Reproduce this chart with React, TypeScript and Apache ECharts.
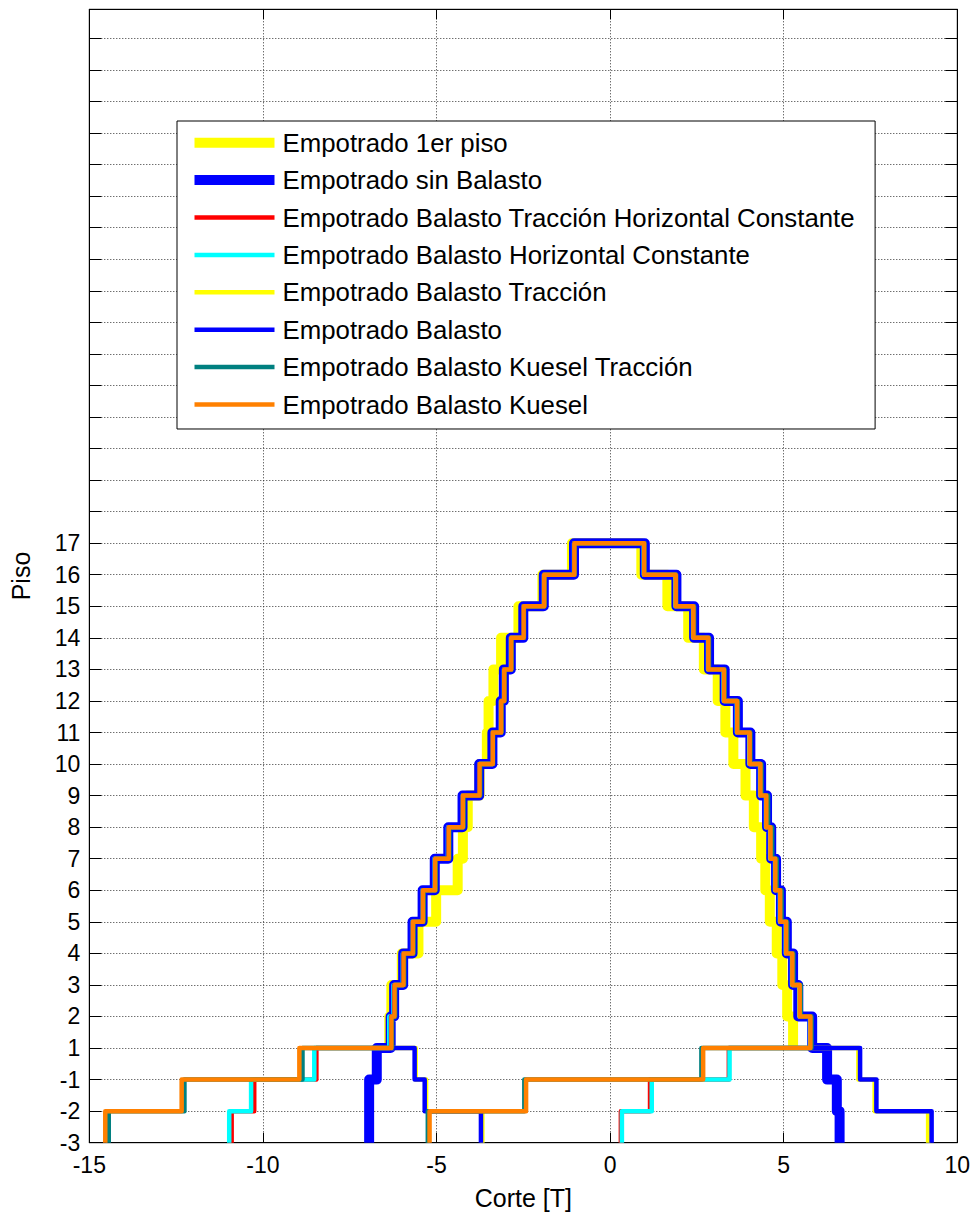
import React, { useEffect, useRef } from "react";
import * as echarts from "echarts";

const FONT = "'Liberation Sans', Arial, Helvetica, sans-serif";

// Y positions are story indices; tick labels for index 0..19
const floorLabels = ["-3", "-2", "-1", "1", "2", "3", "4", "5", "6", "7", "8", "9", "10", "11", "12", "13", "14", "15", "16", "17"];
const yMaxIndex = 35.92; // axis top (unlabelled grid lines continue above 17)

// x axis
const xMin = -15;
const xMax = 10;
const xStep = 5;

// Shear per story interval [-3,-2], [-2,-1], [-1,1], [1,2], ... [16,17]
// left = negative branch (going up), right = positive branch (going down)
const primerPisoStart = 3; // starts at floor 1
const primerPisoLeft = [-6.36, -6.3, -6.0, -5.52, -5.01, -4.39, -4.24, -4.1, -3.76, -3.55, -3.5, -3.36, -3.14, -2.64, -1.95, -1.1];
const primerPisoRight = [5.27, 5.1, 4.96, 4.8, 4.6, 4.47, 4.35, 4.14, 3.9, 3.55, 3.32, 3.1, 2.7, 2.25, 1.65, 0.9];

const sinBalastoLeft = [-6.94, -6.94, -6.72, -6.32, -6.22, -5.96, -5.69, -5.4, -5.05, -4.66, -4.25, -3.77, -3.39, -3.15, -3.06, -2.86, -2.5, -1.91, -1.04];
const sinBalastoRight = [6.61, 6.53, 6.25, 5.82, 5.42, 5.27, 5.09, 4.92, 4.78, 4.64, 4.52, 4.35, 4.04, 3.68, 3.3, 2.85, 2.42, 1.91, 1.0];

const tracHorLeft = [-10.9, -10.25, -8.46, -6.33, -6.22, -5.95, -5.68, -5.39, -5.04, -4.65, -4.24, -3.76, -3.38, -3.14, -3.05, -2.85, -2.49, -1.9, -1.03];
const tracHorRight = [0.31, 1.15, 3.42, 5.78, 5.47, 5.26, 5.08, 4.91, 4.77, 4.63, 4.51, 4.34, 4.03, 3.67, 3.29, 2.84, 2.41, 1.89, 0.98];

const horLeft = [-10.97, -10.34, -8.52, -6.36, -6.24, -5.97, -5.7, -5.41, -5.06, -4.67, -4.25, -3.77, -3.39, -3.15, -3.06, -2.86, -2.5, -1.91, -1.04];
const horRight = [0.34, 1.2, 3.44, 5.76, 5.45, 5.24, 5.06, 4.89, 4.75, 4.61, 4.49, 4.32, 4.01, 3.65, 3.27, 2.82, 2.39, 1.88, 0.97];

const tracLeft = [-3.68, -5.3, -5.6, -6.3, -6.21, -5.95, -5.68, -5.39, -5.04, -4.65, -4.24, -3.76, -3.38, -3.14, -3.05, -2.85, -2.49, -1.9, -1.03];
const tracRight = [9.16, 7.62, 7.15, 5.79, 5.47, 5.26, 5.08, 4.91, 4.77, 4.63, 4.51, 4.34, 4.03, 3.67, 3.29, 2.84, 2.41, 1.9, 0.99];

const balastoLeft = [-3.72, -5.34, -5.63, -6.31, -6.22, -5.96, -5.69, -5.4, -5.05, -4.66, -4.25, -3.77, -3.39, -3.15, -3.06, -2.86, -2.5, -1.91, -1.04];
const balastoRight = [9.26, 7.67, 7.2, 5.8, 5.48, 5.27, 5.09, 4.92, 4.78, 4.64, 4.52, 4.35, 4.04, 3.68, 3.3, 2.85, 2.42, 1.91, 1.0];

const kueselTracLeft = [-14.44, -12.26, -8.86, -6.28, -6.19, -5.93, -5.66, -5.37, -5.02, -4.63, -4.22, -3.74, -3.37, -3.13, -3.04, -2.84, -2.48, -1.89, -1.02];
const kueselTracRight = [-5.25, -2.47, 2.63, 5.8, 5.49, 5.28, 5.1, 4.94, 4.8, 4.67, 4.55, 4.36, 4.04, 3.68, 3.3, 2.85, 2.42, 1.9, 0.99];

const kueselLeft = [-14.54, -12.34, -8.95, -6.3, -6.21, -5.95, -5.68, -5.39, -5.04, -4.65, -4.24, -3.76, -3.38, -3.14, -3.05, -2.85, -2.49, -1.9, -1.03];
const kueselRight = [-5.2, -2.42, 2.68, 5.77, 5.46, 5.25, 5.07, 4.9, 4.76, 4.62, 4.5, 4.33, 4.02, 3.66, 3.28, 2.83, 2.4, 1.89, 0.98];

const seriesNames = [
  "Empotrado 1er piso",
  "Empotrado sin Balasto",
  "Empotrado Balasto Tracción Horizontal Constante",
  "Empotrado Balasto Horizontal Constante",
  "Empotrado Balasto Tracción",
  "Empotrado Balasto",
  "Empotrado Balasto Kuesel Tracción",
  "Empotrado Balasto Kuesel",
];
const seriesColors = ["#FFFF00", "#0000FF", "#FF0000", "#00FFFF", "#FFFF00", "#0000FF", "#008080", "#FF8000"];
const seriesWidths = [10, 10, 4.5, 4.5, 4.5, 4.5, 4.5, 4.5];

function stairs(left: number[], right: number[], start: number): number[][] {
  const pts: number[][] = [];
  for (let i = 0; i < left.length; i++) {
    pts.push([left[i], start + i], [left[i], start + i + 1]);
  }
  for (let i = right.length - 1; i >= 0; i--) {
    pts.push([right[i], start + i + 1], [right[i], start + i]);
  }
  return pts;
}

const seriesData = [
  stairs(primerPisoLeft, primerPisoRight, primerPisoStart),
  stairs(sinBalastoLeft, sinBalastoRight, 0),
  stairs(tracHorLeft, tracHorRight, 0),
  stairs(horLeft, horRight, 0),
  stairs(tracLeft, tracRight, 0),
  stairs(balastoLeft, balastoRight, 0),
  stairs(kueselTracLeft, kueselTracRight, 0),
  stairs(kueselLeft, kueselRight, 0),
];

export default function App() {
  const ref = useRef<HTMLDivElement>(null);
  useEffect(() => {
    if (!ref.current) return;
    const chart = echarts.init(ref.current, undefined, { renderer: "svg" });
    const gridLine = { show: true, lineStyle: { color: "#333", width: 1, type: [1, 2] as any } };
    const yLabel = (v: number) => {
      const i = Math.round(v);
      if (Math.abs(v - i) > 1e-6) return "";
      return i >= 0 && i < floorLabels.length ? floorLabels[i] : "";
    };
    chart.setOption({
      animation: false,
      backgroundColor: "#fff",
      textStyle: { fontFamily: FONT },
      grid: {
        left: 89.3,
        right: 19.7,
        top: 9.3,
        bottom: 75.3,
        show: true,
        borderColor: "#000",
        borderWidth: 1,
        backgroundColor: "#fff",
        outerBoundsMode: "none",
      },
      legend: {
        orient: "vertical",
        left: 177,
        top: 121,
        backgroundColor: "#fff",
        borderColor: "#000",
        borderWidth: 1,
        borderRadius: 0,
        padding: [7.7, 20, 10.5, 12.5],
        itemWidth: 80,
        itemHeight: 10,
        itemGap: 9.4,
        selectedMode: false,
        itemStyle: { opacity: 0 },
        textStyle: { fontFamily: FONT, fontSize: 25.8, color: "#000", lineHeight: 28, padding: [0, 0, 0, 3] },
        data: seriesNames.map((n, i) => ({
          name: n,
          lineStyle: { width: seriesWidths[i] === 10 ? 10 : 4.5, color: seriesColors[i] },
          itemStyle: { opacity: 0 },
        })),
      },
      xAxis: [
        {
          type: "value",
          min: xMin,
          max: xMax,
          interval: xStep,
          position: "bottom",
          name: "Corte [T]",
          nameLocation: "middle",
          nameGap: 43,
          nameTextStyle: { fontFamily: FONT, fontSize: 25, color: "#000" },
          axisLine: { show: true, onZero: false, lineStyle: { color: "#000", width: 1 } },
          axisTick: { show: true, inside: true, length: 10, lineStyle: { color: "#000" } },
          axisLabel: { show: true, fontFamily: FONT, fontSize: 23, color: "#000", margin: 11 },
          splitLine: gridLine,
        },
        {
          type: "value",
          min: xMin,
          max: xMax,
          interval: xStep,
          position: "top",
          axisLine: { show: true, onZero: false, lineStyle: { color: "#000", width: 1 } },
          axisTick: { show: true, inside: true, length: 10, lineStyle: { color: "#000" } },
          axisLabel: { show: false },
          splitLine: { show: false },
        },
      ],
      yAxis: [
        {
          type: "value",
          min: 0,
          max: yMaxIndex,
          interval: 1,
          position: "left",
          name: "Piso",
          nameLocation: "middle",
          nameRotate: 90,
          nameGap: 56,
          nameTextStyle: { fontFamily: FONT, fontSize: 25, color: "#000" },
          axisLine: { show: true, onZero: false, lineStyle: { color: "#000", width: 1 } },
          axisTick: { show: true, inside: true, length: 12, lineStyle: { color: "#000" } },
          axisLabel: { show: true, fontFamily: FONT, fontSize: 23, color: "#000", margin: 9, formatter: yLabel, showMinLabel: true, showMaxLabel: true },
          splitLine: gridLine,
        },
        {
          type: "value",
          min: 0,
          max: yMaxIndex,
          interval: 1,
          position: "right",
          axisLine: { show: true, onZero: false, lineStyle: { color: "#000", width: 1 } },
          axisTick: { show: true, inside: true, length: 12, lineStyle: { color: "#000" } },
          axisLabel: { show: false },
          splitLine: { show: false },
        },
      ],
      series: seriesData.map((d, i) => ({
        name: seriesNames[i],
        type: "line",
        xAxisIndex: 0,
        yAxisIndex: 0,
        data: d,
        symbol: "none",
        showSymbol: false,
        clip: true,
        silent: true,
        z: 2 + i,
        itemStyle: { color: seriesColors[i] },
        lineStyle: { color: seriesColors[i], width: seriesWidths[i], join: "round", cap: "butt" },
      })),
    });
    return () => chart.dispose();
  }, []);
  return <div ref={ref} style={{ position: "absolute", left: 0, top: 0, width: 977, height: 1218 }} />;
}
